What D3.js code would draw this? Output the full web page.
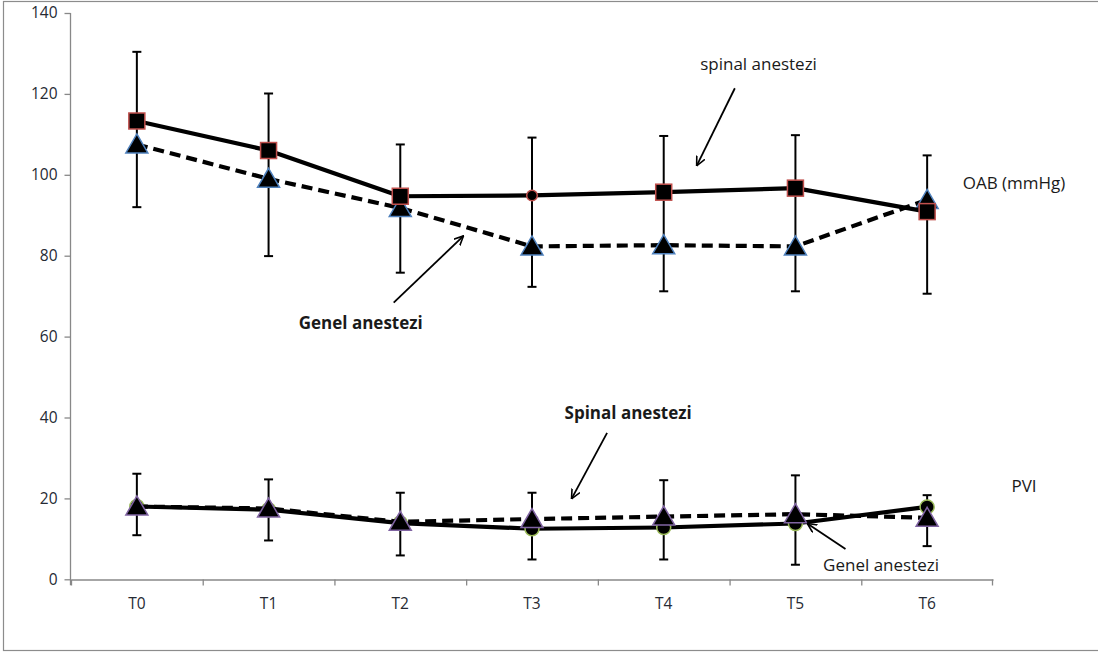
<!DOCTYPE html>
<html>
<head>
<meta charset="utf-8">
<script src="https://cdn.jsdelivr.net/npm/d3@7"></script>
<style>
  body { margin: 0; background: #fff; }
  text { font-family: "Open Sans", sans-serif; }
</style>
</head>
<body>
<script>
// categories + tick values
const times = ["T0", "T1", "T2", "T3", "T4", "T5", "T6"];
const yTicks = [0, 20, 40, 60, 80, 100, 120, 140];

// OAB (mmHg)
const oabSpinal = [113.3, 106.0, 94.7, 94.9, 95.7, 96.7, 90.9];
const oabGenel  = [107.5, 99.0, 91.8, 82.3, 82.6, 82.3, 93.8];
const oabErrTop = [130.4, 120.1, 107.5, 109.2, 109.6, 109.8, 104.8];
const oabErrBot = [92.0, 79.9, 75.8, 72.3, 71.2, 71.2, 70.6];

// PVI
const pviGenel  = [18.0, 17.2, 13.9, 12.5, 12.8, 13.8, 17.9];
const pviSpinal = [18.0, 17.5, 14.2, 14.9, 15.5, 16.1, 15.2];
const pviErrTop = [26.1, 24.7, 21.4, 21.4, 24.5, 25.7, 20.8];
const pviErrBot = [10.9, 9.6, 5.9, 4.9, 4.9, 3.6, 8.2];

// which point of the OAB spinal series has a round marker
const oabSpinalShape = ["s", "s", "s", "c", "s", "s", "s"];

// annotations: [text, idx, value, weight, anchor]
const labels = [
  ["spinal anestezi", 4.72, 127.4, "normal", "middle"],
  ["Genel anestezi", 1.70, 63.4, "bold", "middle"],
  ["OAB (mmHg)", 6.27, 98.0, "normal", "start"],
  ["Spinal anestezi", 3.73, 41.1, "bold", "middle"],
  ["PVI", 6.64, 23.1, "normal", "start"],
  ["Genel anestezi", 5.65, 3.5, "normal", "middle"]
];
// arrows: [fromIdx, fromVal, toIdx, toVal]
const arrows = [
  [4.54, 121.4, 4.25, 102.2],
  [1.95, 68.4, 2.48, 84.9],
  [3.57, 36.2, 3.30, 19.9],
  [5.38, 7.5, 5.09, 13.8]
];

const W = 1098, H = 652;
const svg = d3.select("body").append("svg")
  .attr("width", W).attr("height", H);

// outer frame
svg.append("rect")
  .attr("x", 3.5).attr("y", 1.5)
  .attr("width", 1110).attr("height", 649)
  .attr("fill", "none").attr("stroke", "#8c8c8c").attr("stroke-width", 1.2);

const x = d3.scaleBand().domain(times).range([71, 993]);
const xi = d3.scaleLinear().domain([0, 6])
  .range([x("T0") + x.bandwidth() / 2, x("T6") + x.bandwidth() / 2]);
const y = d3.scaleLinear().domain([0, 140]).range([579.3, 13]);
const cx = d => x(d) + x.bandwidth() / 2;

// axes
const yAxis = svg.append("g").attr("transform", "translate(70.5,0)")
  .call(d3.axisLeft(y).tickValues(yTicks).tickSize(6).tickPadding(7).tickSizeOuter(0));
const xAxis = svg.append("g").attr("transform", "translate(0," + (y(0) + 0.2) + ")")
  .call(d3.axisBottom(x).tickSize(0).tickPadding(18));
[yAxis, xAxis].forEach(g => {
  g.select(".domain").attr("stroke", "#888").attr("stroke-width", 1.3);
  g.selectAll(".tick line").attr("stroke", "#888").attr("stroke-width", 1.3);
  g.selectAll("text").attr("fill", "#262a33").style("font-size", "15.5px")
    .style("font-family", "'Open Sans', sans-serif");
});
// y-axis stub below 0, and x category separators
yAxis.select(".domain").attr("d", "M0," + y(140) + "V" + (y(0) + 6));
xAxis.selectAll(".sep").data(times.concat(["end"])).join("line")
  .attr("x1", (d, i) => i < times.length ? x(d) + 0.5 : x.range()[1] - 0.5)
  .attr("x2", (d, i) => i < times.length ? x(d) + 0.5 : x.range()[1] - 0.5)
  .attr("y1", 0).attr("y2", 6)
  .attr("stroke", "#888").attr("stroke-width", 1.3);

// error bars
function errBars(top, bot) {
  const g = svg.append("g").attr("stroke", "#000").attr("stroke-width", 2);
  times.forEach((t, i) => {
    const px = cx(t);
    g.append("line").attr("x1", px).attr("x2", px).attr("y1", y(top[i])).attr("y2", y(bot[i]));
    g.append("line").attr("x1", px - 4.5).attr("x2", px + 4.5).attr("y1", y(top[i])).attr("y2", y(top[i]));
    g.append("line").attr("x1", px - 4.5).attr("x2", px + 4.5).attr("y1", y(bot[i])).attr("y2", y(bot[i]));
  });
}
errBars(oabErrTop, oabErrBot);
errBars(pviErrTop, pviErrBot);

const line = d3.line().x((d, i) => cx(times[i])).y(d => y(d));

function drawLine(vals, dashed) {
  svg.append("path").datum(vals)
    .attr("d", line)
    .attr("fill", "none").attr("stroke", "#000").attr("stroke-width", 4.2)
    .attr("stroke-linejoin", "round")
    .attr("stroke-dasharray", dashed ? "11,6" : null);
}

function triangles(vals, stroke) {
  svg.append("g").selectAll("path").data(vals).join("path")
    .attr("transform", (d, i) => "translate(" + cx(times[i]) + "," + y(d) + ")")
    .attr("d", "M0,-10.5L11,8.5L-11,8.5Z")
    .attr("fill", "#000").attr("stroke", stroke).attr("stroke-width", 1.5);
}

// OAB
drawLine(oabGenel, true);
triangles(oabGenel, "#4f81bd");
drawLine(oabSpinal, false);
const sq = svg.append("g").selectAll("g").data(oabSpinal).join("g")
  .attr("transform", (d, i) => "translate(" + cx(times[i]) + "," + y(d) + ")");
sq.filter((d, i) => oabSpinalShape[i] === "s").append("rect")
  .attr("x", -8).attr("y", -8).attr("width", 16).attr("height", 16)
  .attr("fill", "#000").attr("stroke", "#c0504d").attr("stroke-width", 1.5);
sq.filter((d, i) => oabSpinalShape[i] === "c").append("circle")
  .attr("r", 5.3).attr("fill", "#000").attr("stroke", "#c0504d").attr("stroke-width", 1.5);

// PVI
drawLine(pviGenel, false);
svg.append("g").selectAll("circle").data(pviGenel).join("circle")
  .attr("cx", (d, i) => cx(times[i])).attr("cy", d => y(d)).attr("r", 7)
  .attr("fill", "#000").attr("stroke", "#9bbb59").attr("stroke-width", 1.5);
drawLine(pviSpinal, true);
triangles(pviSpinal, "#8064a2");

// annotations
svg.append("defs").append("marker")
  .attr("id", "arr").attr("viewBox", "0 0 10 10")
  .attr("refX", 9.5).attr("refY", 5)
  .attr("markerWidth", 10).attr("markerHeight", 10)
  .attr("markerUnits", "userSpaceOnUse").attr("orient", "auto")
  .append("path").attr("d", "M0,0.5L9.5,5L0,9.5")
  .attr("fill", "none").attr("stroke", "#000").attr("stroke-width", 1.6);

svg.append("g").selectAll("line").data(arrows).join("line")
  .attr("x1", d => xi(d[0])).attr("y1", d => y(d[1]))
  .attr("x2", d => xi(d[2])).attr("y2", d => y(d[3]))
  .attr("stroke", "#000").attr("stroke-width", 1.8)
  .attr("marker-end", "url(#arr)");

svg.append("g").selectAll("text").data(labels).join("text")
  .attr("x", d => xi(d[1])).attr("y", d => y(d[2]))
  .attr("dy", "0.35em")
  .attr("text-anchor", d => d[4])
  .attr("font-weight", d => d[3])
  .attr("fill", "#1a1a1a")
  .style("font-size", "17px")
  .text(d => d[0]);
</script>
</body>
</html>
